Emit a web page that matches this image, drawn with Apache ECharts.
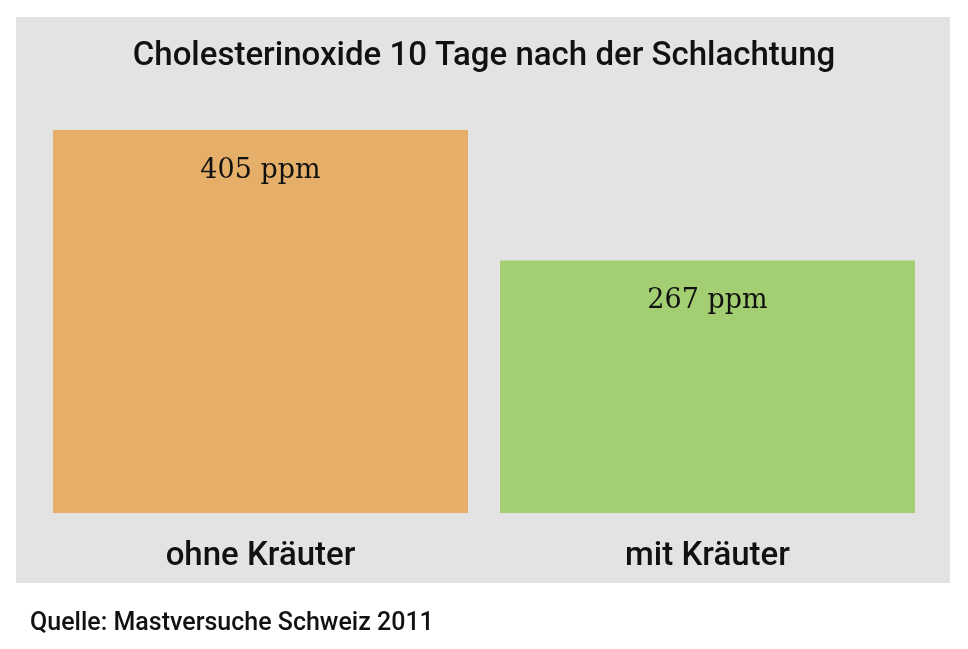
<!DOCTYPE html>
<html>
<head>
<meta charset="utf-8">
<script src="https://cdn.jsdelivr.net/npm/echarts@6/dist/echarts.min.js"></script>
<style>html,body{margin:0;padding:0;background:#fff;}#c{width:968px;height:649px;}</style>
</head>
<body>
<div id="c"></div>
<script>
const categories = ['ohne Kräuter', 'mit Kräuter'];
const values = [405, 267];
const barColors = ['#E6AF69', '#A3CF72'];
const titleText = 'Cholesterinoxide 10 Tage nach der Schlachtung';
const sourceText = 'Quelle: Mastversuche Schweiz 2011';

const chart = echarts.init(document.getElementById('c'));
chart.setOption({
  animation: false,
  backgroundColor: '#ffffff',
  graphic: [
    { type: 'rect', z: -10, shape: { x: 16, y: 17, width: 934, height: 566 }, style: { fill: '#E3E3E3' } },
    { type: 'text', left: 30, top: 611, style: { text: sourceText, font: '500 25px Roboto', fill: '#111' } }
  ],
  title: {
    text: titleText, left: 'center', top: 35,
    textStyle: { fontFamily: 'Roboto', fontWeight: 500, fontSize: 33, color: '#111' }
  },
  grid: { left: 37, right: 37, top: 130, bottom: 136 },
  xAxis: {
    type: 'category', data: categories,
    axisLine: { show: false }, axisTick: { show: false },
    axisLabel: { margin: 27, fontFamily: 'Roboto', fontWeight: 500, fontSize: 33, color: '#111' }
  },
  yAxis: { type: 'value', min: 0, max: 405, show: false, splitLine: { show: false } },
  series: [{
    type: 'bar', barWidth: 415,
    data: values.map((v, i) => ({ value: v, itemStyle: { color: barColors[i] } })),
    label: {
      show: true, position: 'insideTop', distance: 27,
      formatter: p => p.value + ' ppm',
      fontFamily: 'DejaVu Serif', fontSize: 27, color: '#111'
    }
  }]
});
</script>
</body>
</html>
